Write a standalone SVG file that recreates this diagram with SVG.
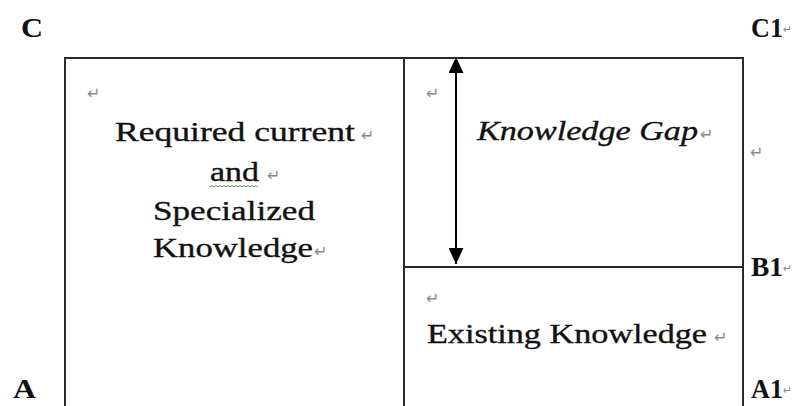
<svg xmlns="http://www.w3.org/2000/svg" width="794" height="406" viewBox="0 0 794 406">
<style>
.ln{stroke:#2a2a2a;stroke-width:2;fill:none}
.t{font-family:"Liberation Serif","Times New Roman",serif;font-size:28px;fill:#111;stroke:#111;stroke-width:0.35}
.it{font-style:italic}
.lb{font-family:"Liberation Serif","Times New Roman",serif;font-size:27px;font-weight:bold;fill:#111}
.pm{font-family:"DejaVu Sans",sans-serif;font-size:16px;fill:#8a8a8a}
.pe{font-family:"DejaVu Sans",sans-serif;font-size:11px;fill:#8a8a8a}
</style>
<defs>
<marker id="ah" viewBox="0 0 16 15" refX="16" refY="7.5" markerWidth="16" markerHeight="15" markerUnits="userSpaceOnUse" orient="auto-start-reverse">
<path d="M0,0 L16,7.5 L0,15 Z" fill="#000"/>
</marker>
</defs>
<rect width="794" height="406" fill="#fff"/>

<g id="labels">
<text class="lb" x="21" y="37" textLength="22" lengthAdjust="spacingAndGlyphs">C</text>
<text class="lb" x="751" y="37" textLength="32" lengthAdjust="spacingAndGlyphs">C1</text>
<text class="pe" x="783" y="33">↵</text>
<text class="lb" x="751" y="276" textLength="32" lengthAdjust="spacingAndGlyphs">B1</text>
<text class="pe" x="783" y="272">↵</text>
<text class="lb" x="13" y="398" textLength="23" lengthAdjust="spacingAndGlyphs">A</text>
<text class="lb" x="751" y="398" textLength="32" lengthAdjust="spacingAndGlyphs">A1</text>
<text class="pe" x="783" y="394">↵</text>
</g>

<g id="required">
<path class="ln" d="M65,406 V58 H404 V406"/>
<text class="pm" x="87" y="99">↵</text>
<text class="t" x="115" y="141" textLength="240" lengthAdjust="spacingAndGlyphs">Required current</text>
<text class="pm" x="361" y="141">↵</text>
<text class="t" x="210" y="181" textLength="49" lengthAdjust="spacingAndGlyphs">and</text>
<path d="M210,187 l2,-1.5 l2,1.5 l2,-1.5 l2,1.5 l2,-1.5 l2,1.5 l2,-1.5 l2,1.5 l2,-1.5 l2,1.5 l2,-1.5 l2,1.5 l2,-1.5 l2,1.5 l2,-1.5 l2,1.5 l2,-1.5 l2,1.5 l2,-1.5 l2,1.5 l2,-1.5 l2,1.5 l2,-1.5 l2,1.5" fill="none" stroke="#4aa84a" stroke-width="1"/>
<text class="pm" x="267" y="181">↵</text>
<text class="t" x="153" y="220" textLength="162" lengthAdjust="spacingAndGlyphs">Specialized</text>
<text class="t" x="153" y="257" textLength="160" lengthAdjust="spacingAndGlyphs">Knowledge</text>
<text class="pm" x="314" y="257">↵</text>
</g>

<g id="gap">
<path class="ln" d="M404,58 H743 V267 H404"/>
<text class="pm" x="426" y="99">↵</text>
<text class="t it" x="477" y="140" textLength="221" lengthAdjust="spacingAndGlyphs">Knowledge Gap</text>
<text class="pm" x="700" y="140">↵</text>
<text class="pm" x="750" y="158">↵</text>
</g>

<g id="existing">
<path class="ln" d="M404,267 H743 V406"/>
<text class="pm" x="426" y="304">↵</text>
<text class="t" x="427" y="343" textLength="280" lengthAdjust="spacingAndGlyphs">Existing Knowledge</text>
<text class="pm" x="714" y="343">↵</text>
</g>

<g id="connectors">
<line x1="456" y1="150" x2="456" y2="57" stroke="#000" stroke-width="2" marker-end="url(#ah)"/>
<line x1="456" y1="150" x2="456" y2="264" stroke="#000" stroke-width="2" marker-end="url(#ah)"/>
</g>
</svg>
